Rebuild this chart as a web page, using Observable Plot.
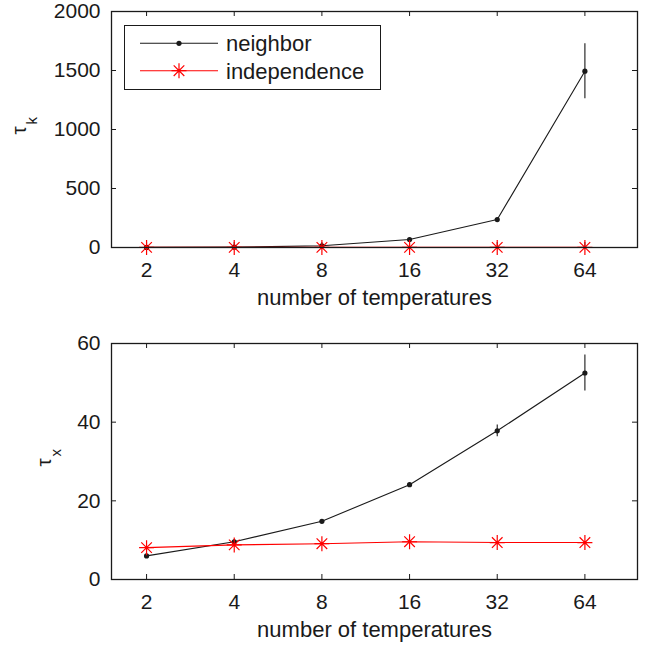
<!DOCTYPE html>
<html><head><meta charset="utf-8">
<script src="https://cdn.jsdelivr.net/npm/d3@7"></script>
<script src="https://cdn.jsdelivr.net/npm/@observablehq/plot@0.6"></script>
<style>
body{margin:0;background:#fff;}
#wrap{position:relative;width:649px;height:648px;font-family:"Liberation Sans",Arial,Helvetica,sans-serif;}
#wrap svg{display:block}
#legend{position:absolute;left:124px;top:25px;}
</style></head><body><div id="wrap"></div>
<script>
// ---- data ----
const temperatures = [2, 4, 8, 16, 32, 64];
const xTicks = [2, 4, 8, 16, 32, 64];
const seriesNames = ["neighbor", "independence"];

const tauKNeighbor = [1, 3, 15, 68, 237, 1494];
const tauKNeighborErr = [0, 0, 1, 3, 8, 233];
const tauKIndependence = [1, 1, 1, 1, 1, 1];
const tauKTicks = [0, 500, 1000, 1500, 2000];

const tauXNeighbor = [6.0, 9.6, 14.8, 24.1, 37.8, 52.5];
const tauXNeighborErr = [0.2, 0.6, 0.3, 0.4, 1.5, 4.6];
const tauXIndependence = [8.1, 8.8, 9.1, 9.6, 9.4, 9.4];
const tauXTicks = [0, 20, 40, 60];

const xLabel = "number of temperatures";

// ---- layout ----
const W = 649, ML = 111, MR = 12, H = 324;
const FONT = '"Liberation Sans", Arial, Helvetica, sans-serif';
const INK = "#1a1a1a";
const RED = "#ff0000";

const asterisk = {
  draw(ctx, size) {
    const r = Math.sqrt(size / Math.PI);
    const d = r * Math.SQRT1_2;
    ctx.moveTo(-r, 0); ctx.lineTo(r, 0);
    ctx.moveTo(0, -r); ctx.lineTo(0, r);
    ctx.moveTo(-d, -d); ctx.lineTo(d, d);
    ctx.moveTo(-d, d); ctx.lineTo(d, -d);
  }
};

function panel({marginTop, marginBottom, yDomain, yTicks, neighbor, neighborErr, independence, sub, tauDx, subDx}) {
  const innerH = H - marginTop - marginBottom;
  const innerW = W - ML - MR;
  const rows = temperatures.map((t, i) => ({
    t, n: neighbor[i], lo: neighbor[i] - neighborErr[i], hi: neighbor[i] + neighborErr[i], ind: independence[i]
  }));
  return Plot.plot({
    width: W, height: H, marginTop, marginBottom, marginLeft: ML, marginRight: MR,
    style: {fontFamily: FONT, fontSize: "21px", color: INK, background: "#fff", overflow: "visible"},
    x: {type: "log", base: 2, domain: [2 ** 0.6, 2 ** 6.6]},
    y: {domain: yDomain},
    marks: [
      Plot.axisX(xTicks, {tickSize: 0, tickPadding: 15, tickFormat: d => String(d), fontSize: 21, label: null}),
      Plot.axisY(yTicks, {tickSize: 0, tickPadding: 11, tickFormat: d => String(d), fontSize: 21, label: null}),
      Plot.ruleX(xTicks, {x: d => d, insetTop: innerH - 5, stroke: INK}),
      Plot.ruleX(xTicks, {x: d => d, insetBottom: innerH - 5, stroke: INK}),
      Plot.ruleY(yTicks, {y: d => d, insetRight: innerW - 5, stroke: INK}),
      Plot.ruleY(yTicks, {y: d => d, insetLeft: innerW - 5, stroke: INK}),
      Plot.ruleX(rows, {x: "t", y1: "lo", y2: "hi", stroke: INK, strokeWidth: 1.1}),
      Plot.line(rows, {x: "t", y: "n", stroke: INK, strokeWidth: 1.1}),
      Plot.dot(rows, {x: "t", y: "n", r: 2.6, fill: INK}),
      Plot.line(rows, {x: "t", y: "ind", stroke: RED, strokeWidth: 1.1}),
      Plot.dot(rows, {x: "t", y: "ind", r: 7.5, symbol: asterisk, stroke: RED, fill: "none", strokeWidth: 1.2}),
      Plot.frame({stroke: INK, strokeWidth: 1.3}),
      Plot.text([xLabel], {text: d => d, frameAnchor: "bottom", dy: 57, fontSize: 22, fill: INK}),
      Plot.text(["τ"], {text: d => d, frameAnchor: "left", rotate: -90, dx: tauDx, dy: 5, fontSize: 21, fill: INK}),
      Plot.text([sub], {text: d => d, frameAnchor: "left", rotate: -90, dx: subDx, dy: -5, fontSize: 15, fill: INK})
    ]
  });
}

const wrap = document.getElementById("wrap");
wrap.append(panel({
  marginTop: 11, marginBottom: 77, yDomain: [0, 2000], yTicks: tauKTicks,
  neighbor: tauKNeighbor, neighborErr: tauKNeighborErr, independence: tauKIndependence,
  sub: "k", tauDx: -92, subDx: -79
}));
wrap.append(panel({
  marginTop: 19, marginBottom: 69, yDomain: [0, 60], yTicks: tauXTicks,
  neighbor: tauXNeighbor, neighborErr: tauXNeighborErr, independence: tauXIndependence,
  sub: "x", tauDx: -67, subDx: -55
}));

// ---- legend ----
const lg = d3.create("svg").attr("id", "legend").attr("width", 258).attr("height", 66)
  .style("position", "absolute").style("left", "124px").style("top", "25px");
lg.append("rect").attr("x", 0.5).attr("y", 0.5).attr("width", 256).attr("height", 64)
  .attr("fill", "#fff").attr("stroke", INK).attr("stroke-width", 1);
const ly = [18.3, 45.7];
const lcol = [INK, RED];
seriesNames.forEach((name, i) => {
  const g = lg.append("g");
  g.append("line").attr("x1", 16).attr("x2", 94).attr("y1", ly[i]).attr("y2", ly[i])
    .attr("stroke", lcol[i]).attr("stroke-width", 1.1);
  if (i === 0) {
    g.append("circle").attr("cx", 55).attr("cy", ly[i]).attr("r", 2.6).attr("fill", INK);
  } else {
    const r = 7.5, d = r * Math.SQRT1_2;
    g.append("path").attr("transform", `translate(55,${ly[i]})`)
      .attr("d", `M${-r},0L${r},0M0,${-r}L0,${r}M${-d},${-d}L${d},${d}M${-d},${d}L${d},${-d}`)
      .attr("stroke", RED).attr("fill", "none").attr("stroke-width", 1.2);
  }
  g.append("text").attr("x", 102).attr("y", ly[i] + 8).attr("font-size", 22)
    .attr("font-family", FONT).attr("fill", INK).text(name);
});
wrap.append(lg.node());
</script></body></html>
